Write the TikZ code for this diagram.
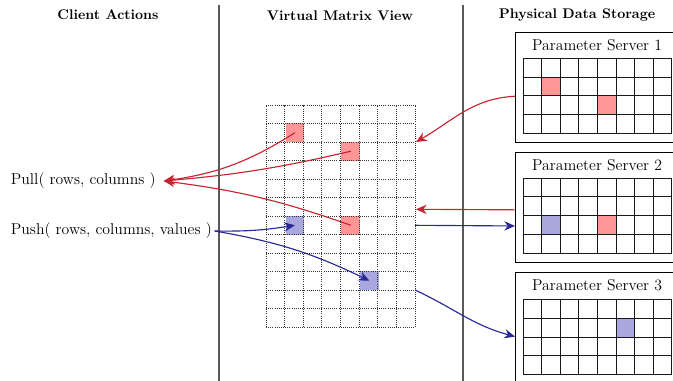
\documentclass[tikz,border=0pt]{standalone}
\usetikzlibrary{arrows.meta}

\definecolor{pullred}{RGB}{200,35,50}
\definecolor{pushblue}{RGB}{40,40,150}
\definecolor{cellred}{RGB}{255,150,150}
\definecolor{cellblue}{RGB}{168,168,222}

\begin{document}
\begin{tikzpicture}[x=0.75pt, y=0.75pt,
		head/.style={font=\fontsize{10.5}{12}\selectfont\bfseries},
		txt/.style={font=\fontsize{11.8}{14}\selectfont, inner sep=2pt},
		sep/.style={draw=black!65, line width=0.8pt},
		vgrid/.style={draw=black!80, densely dotted, line width=0.6pt, step={(18.625,18.5)}},
		sgrid/.style={draw=black!90, line width=0.7pt, step={(18.55,18.75)}},
		serverbox/.style={draw, line width=0.8pt, anchor=north west, minimum width=123.75pt, inner sep=0},
		redcell/.style={fill=cellred, minimum width=14pt, minimum height=14pt, inner sep=0},
		bluecell/.style={fill=cellblue, minimum width=14pt, minimum height=14pt, inner sep=0},
		pullarrow/.style={draw=pullred, line width=0.85pt, -{Stealth[length=8pt,width=7pt]}},
		pusharrow/.style={draw=pushblue, line width=0.85pt, -{Stealth[length=8pt,width=7pt]}}]
		\useasboundingbox (0, 0) rectangle (673, 381);
		
		% columns
		\draw[sep] (219, 376) -- (219, 0);
		\draw[sep] (463, 376) -- (463, 0);
		
		\node[head] (h1) at (108, 366) {Client Actions};
		\node[head] (h2) at (340, 365) {Virtual Matrix View};
		\node[head] (h3) at (577, 366) {Physical Data Storage};
		
		% client calls
		\node[txt, anchor=west] (pull) at (8, 200) {Pull( rows, columns )};
		\node[txt, anchor=west] (push) at (8, 150) {Push( rows, columns, values )};
		
		% virtual matrix
		\node[redcell] (v1) at (294.9, 248.25) {};
		\node[redcell] (v2) at (350.8, 229.75) {};
		\node[redcell] (v3) at (350.8, 155.75) {};
		\node[bluecell] (v4) at (294.9, 155.75) {};
		\node[bluecell] (v5) at (369.4, 100.25) {};
		\begin{scope}[shift={(266, 54)}]
			\draw[vgrid] (0, 0) grid (149.05, 222.05);
		\end{scope}
		\coordinate (vmr1) at (416, 239);
		\coordinate (vmr2) at (416, 171.7);
		\coordinate (vmr3) at (415, 155.7);
		\coordinate (vmr4) at (415, 91);
		
		% parameter servers
		\node[serverbox, minimum height=82.5pt] (ps1) at (515, 349.3) {};
		\node[serverbox, minimum height=83pt] (ps2) at (515, 229.3) {};
		\node[serverbox, minimum height=85.7pt] (ps3) at (515, 109.3) {};
		
		\node[txt] (t1) at (597, 336) {Parameter Server 1};
		\node[txt] (t2) at (597, 216) {Parameter Server 2};
		\node[txt] (t3) at (597, 96) {Parameter Server 3};
		
		\node[redcell] (s1a) at (551.1, 294.6) {};
		\node[redcell] (s1b) at (606.8, 275.8) {};
		\node[bluecell] (s2a) at (551.1, 156.1) {};
		\node[redcell] (s2b) at (606.8, 156.1) {};
		\node[bluecell] (s3a) at (625.3, 53.4) {};
		
		\begin{scope}[shift={(523.3, 247.7)}]
			\draw[sgrid] (0, 0) grid (148.45, 75.05);
		\end{scope}
		\begin{scope}[shift={(523.3, 128)}]
			\draw[sgrid] (0, 0) grid (148.45, 75.05);
		\end{scope}
		\begin{scope}[shift={(523.3, 6.5)}]
			\draw[sgrid] (0, 0) grid (148.45, 75.05);
		\end{scope}
		
		% pull
		\draw[pullarrow] (v1.center) to[bend left=12] ([xshift=4pt]pull.east);
		\draw[pullarrow] (v2.center) to[bend left=4] ([xshift=4pt]pull.east);
		\draw[pullarrow] (v3.center) to[bend right=6] ([xshift=4pt]pull.east);
		\draw[pullarrow] ([yshift=-6.75pt]ps1.west) to[out=183, in=30] (vmr1);
		\draw[pullarrow] ([yshift=-1.7pt]ps2.west) -- (vmr2);
		
		% push
		\draw[pusharrow] (push.east) to[bend right=5] (v4.center);
		\draw[pusharrow] (push.east) to[bend left=8] (v5.center);
		\draw[pusharrow] (vmr3) -- ([yshift=-13.8pt]ps2.west);
		\draw[pusharrow] (vmr4) to[out=-25, in=165] ([yshift=-5.4pt]ps3.west);
	\end{tikzpicture}
\end{document}
